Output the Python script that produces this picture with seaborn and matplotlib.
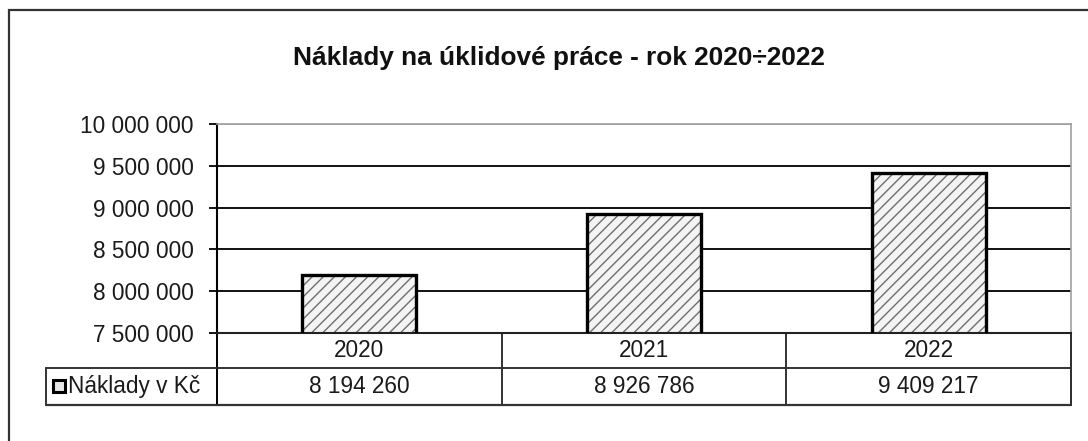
import matplotlib
matplotlib.use("Agg")
import matplotlib.pyplot as plt
import matplotlib.transforms as mtransforms
from matplotlib.patches import Rectangle
import seaborn as sns
import pandas as pd

# data
roky = ["2020", "2021", "2022"]
naklady = [8194260, 8926786, 9409217]
y_ticks = [7500000, 8000000, 8500000, 9000000, 9500000, 10000000]
nazev_rady = "Náklady v Kč"
titulek = "Náklady na úklidové práce - rok 2020÷2022"


def fmt(v):
    # mezera jako oddelovac tisicu
    return f"{v:,}".replace(",", " ")


sns.set_style("white")
plt.rcParams["font.family"] = ["Liberation Sans", "DejaVu Sans"]
plt.rcParams["hatch.linewidth"] = 1.0

W, H = 1088, 441
FS = 16.3
fig = plt.figure(figsize=(W / 100, H / 100), dpi=100)

# plocha grafu v pixelech
left, right, top, bottom = 217, 1071, 124, 333
ax = fig.add_axes([left / W, 1 - bottom / H, (right - left) / W, (bottom - top) / H])

df = pd.DataFrame({"rok": roky, "naklady": naklady})
sns.barplot(data=df, x="rok", y="naklady", ax=ax, width=0.4, color="#f4f4f4",
            edgecolor="#6e6e6e", linewidth=0, hatch="///", saturation=1)

# cerny obrys sloupcu
for p in list(ax.patches):
    ax.add_patch(Rectangle(p.get_xy(), p.get_width(), p.get_height(), fill=False,
                           edgecolor="black", linewidth=2.4, zorder=3))

ax.set_ylim(y_ticks[0], y_ticks[-1])
ax.set_xlim(-0.5, len(roky) - 0.5)
ax.set_yticks(y_ticks)
ax.set_yticklabels([fmt(v) for v in y_ticks], fontsize=FS, color="#1a1a1a")
ax.set_xticks([])
ax.set_xlabel("")
ax.set_ylabel("")
ax.tick_params(axis="y", length=6, width=1.3, color="black", pad=11, left=True)

ax.set_axisbelow(True)
ax.yaxis.grid(True, color="#111111", linewidth=1.4)
ax.yaxis.get_gridlines()[-1].set_color("#a0a0a0")

for s in ["top", "right"]:
    ax.spines[s].set_color("#a0a0a0")
    ax.spines[s].set_linewidth(1.2)
ax.spines["left"].set_color("black")
ax.spines["left"].set_linewidth(1.5)
ax.spines["bottom"].set_color("#222222")
ax.spines["bottom"].set_linewidth(1.5)

# datova tabulka pod grafem
ph = bottom - top
r1 = -(368 - bottom) / ph
r2 = -(405 - bottom) / ph
blend = mtransforms.blended_transform_factory(ax.transData, ax.transAxes)
tc = "#333333"
ax.plot([-0.5, len(roky) - 0.5], [r1, r1], transform=blend, color=tc, lw=1.4, clip_on=False)
ax.plot([-0.5, len(roky) - 0.5], [r2, r2], transform=blend, color=tc, lw=1.6, clip_on=False)
for i in range(len(roky) + 1):
    ax.plot([i - 0.5, i - 0.5], [0, r2], transform=blend, color=tc if 0 < i < len(roky) else "black",
            lw=1.4, clip_on=False)
ax.plot([len(roky) - 0.5] * 2, [0, r2], transform=blend, color=tc, lw=1.4, clip_on=False)

# bunka legendy
lx = -(left - 46) / (right - left)
ax.plot([lx, 0], [r1, r1], transform=ax.transAxes, color=tc, lw=1.4, clip_on=False)
ax.plot([lx, 0], [r2, r2], transform=ax.transAxes, color=tc, lw=1.6, clip_on=False)
ax.plot([lx, lx], [r1, r2], transform=ax.transAxes, color=tc, lw=1.4, clip_on=False)
ax.add_patch(Rectangle(((53 - left) / (right - left), (bottom - 392) / ph), 12 / (right - left), 12 / ph,
                       transform=ax.transAxes, facecolor="#e6e6e6", edgecolor="black", lw=2.2,
                       clip_on=False))
ax.text((68 - left) / (right - left), (r1 + r2) / 2, nazev_rady, transform=ax.transAxes,
        ha="left", va="center", fontsize=FS, color="#1a1a1a")

for i, (r, v) in enumerate(zip(roky, naklady)):
    ax.text(i, r1 / 2, r, transform=blend, ha="center", va="center", fontsize=FS, color="#1a1a1a")
    ax.text(i, (r1 + r2) / 2, fmt(v), transform=blend, ha="center", va="center", fontsize=FS,
            color="#1a1a1a")

# titulek
fig.text(559 / W, 1 - 58 / H, titulek, ha="center", va="center", fontsize=18.9,
         fontweight="bold", color="#111111")

# ramecek celeho grafu
fig.patches.append(Rectangle((9 / W, -0.1), 1.2, 1 - 10 / H + 0.1, transform=fig.transFigure,
                             fill=False, edgecolor="#333333", lw=1.6))

fig.savefig("out.png", dpi=100, facecolor="white")
